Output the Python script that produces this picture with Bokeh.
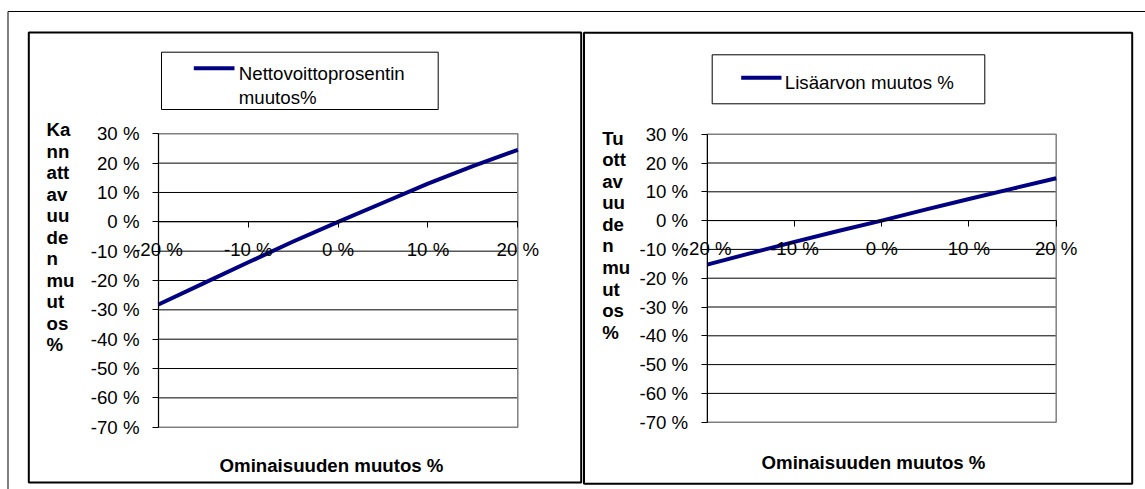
from bokeh.plotting import figure
from bokeh.models import Range1d, LinearAxis, FixedTicker
from bokeh.core.properties import value
from bokeh.embed import file_html
from bokeh.resources import INLINE

# ---------------- data ----------------
change_pct = [-20, -15, -10, -5, 0, 5, 10, 15, 20]
nettovoitto = [-28.2, -21.0, -13.8, -6.7, 0.0, 6.5, 13.0, 19.0, 24.5]
lisaarvo = [-15.3, -11.3, -7.4, -3.6, 0.0, 3.8, 7.5, 11.1, 14.7]

x_ticks = [-20, -10, 0, 10, 20]
y_ticks = [-70, -60, -50, -40, -30, -20, -10, 0, 10, 20, 30]

legend_left = ["Nettovoittoprosentin", "muutos%"]
legend_right = ["Lisäarvon muutos %"]
x_title = "Ominaisuuden muutos %"
y_title_left = ["Ka", "nn", "att", "av", "uu", "de", "n", "mu", "ut", "os", "%"]
y_title_right = ["Tu", "ott", "av", "uu", "de", "n", "mu", "ut", "os", "%"]

# ---------------- layout (page pixels) ----------------
W, H = 1145, 489
OFF = 0
FONT = value("Liberation Sans")
FS = "14pt"
NAVY = "#000080"


def c(v):
    return v - OFF


charts = [
    dict(name="L", series=nettovoitto, legend=legend_left, ytitle=y_title_left,
         plot=(158.0, 517.3, 133.3, 426.7), box=(28.3, 580.7, 32.0, 482.0),
         leg_box=(161.0, 437.7, 51.7, 109.0), leg_line=(193.3, 234.0, 67.7),
         leg_text=(238.3, 73.3, 23.4), ytitle_pos=(46.0, 129.3, 21.47),
         xtitle_pos=(331.0, 465.0)),
    dict(name="R", series=lisaarvo, legend=legend_right, ytitle=y_title_right,
         plot=(706.7, 1055.7, 133.7, 421.7), box=(583.5, 1131.7, 32.3, 483.3),
         leg_box=(711.7, 984.3, 54.3, 103.3), leg_line=(740.7, 781.0, 77.3),
         leg_text=(784.3, 81.7, 23.4), ytitle_pos=(601.7, 137.7, 21.55),
         xtitle_pos=(873.0, 461.7)),
]

p = figure(width=W, height=H, output_backend="svg", toolbar_location=None,
           x_range=Range1d(0, W), y_range=Range1d(H, 0),
           x_axis_location=None, y_axis_location=None, title=None,
           min_border=0, min_border_left=0, min_border_right=0,
           min_border_top=0, min_border_bottom=0)
p.outline_line_color = None
p.background_fill_color = "white"
p.border_fill_color = "white"
p.xgrid.visible = False
p.ygrid.visible = False

# outer frame (top and left edges)
p.segment(x0=[c(7.5), c(7.5)], y0=[c(11), c(11)], x1=[W, c(7.5)], y1=[c(11), H],
          line_color="black", line_width=1)

for ch in charts:
    xl, xr, yt, yb = [c(v) for v in ch["plot"]]
    x0, x1 = x_ticks[0], x_ticks[-1]
    y0, y1 = y_ticks[0], y_ticks[-1]
    sx = (xr - xl) / (x1 - x0)
    sy = (yb - yt) / (y1 - y0)
    xn, yn = "x" + ch["name"], "y" + ch["name"]
    p.extra_x_ranges[xn] = Range1d(x0 - xl / sx, x0 + (W - xl) / sx)
    p.extra_y_ranges[yn] = Range1d(y0 - (H - yb) / sy, y1 + yt / sy)

    # chart box
    bl, br, bt, bb = ch["box"]
    p.quad(left=[c(bl)], right=[c(br)], top=[c(bt)], bottom=[min(c(bb), H - 1.5)],
           fill_color=None, line_color="black", line_width=2)

    # gridlines
    inner = y_ticks[1:-1]
    p.segment(x0=[x0] * len(inner), x1=[x1] * len(inner), y0=inner, y1=inner,
              x_range_name=xn, y_range_name=yn, line_color="black", line_width=1)
    # plot area border
    p.quad(left=[x0], right=[x1], bottom=[y0], top=[y1], x_range_name=xn,
           y_range_name=yn, fill_color=None, line_color="#808080", line_width=1.5)

    # series line
    p.line(change_pct, ch["series"], x_range_name=xn, y_range_name=yn,
           line_color=NAVY, line_width=4, line_join="round")

    # axes
    ya = LinearAxis(x_range_name=xn, y_range_name=yn, fixed_location=x0,
                    bounds=(y0, y1), ticker=FixedTicker(ticks=y_ticks),
                    major_label_overrides={t: f"{t} %" for t in y_ticks})
    xa = LinearAxis(x_range_name=xn, y_range_name=yn, fixed_location=0,
                    bounds=(x0, x1), ticker=FixedTicker(ticks=x_ticks),
                    major_label_overrides={t: f"{t} %" for t in x_ticks})
    for ax in (ya, xa):
        ax.axis_line_color = "black"
        ax.axis_line_width = 1
        ax.major_tick_line_color = "black"
        ax.major_tick_out = 6
        ax.major_tick_in = 0
        ax.minor_tick_out = 0
        ax.minor_tick_in = 0
        ax.major_label_text_font = "Liberation Sans"
        ax.major_label_text_font_size = FS
        ax.major_label_text_color = "black"
    ya.major_label_standoff = 13
    xa.major_label_standoff = 11
    p.add_layout(ya, "left")
    p.add_layout(xa, "below")

    # legend
    ll, lr, lt, lb = ch["leg_box"]
    p.quad(left=[c(ll)], right=[c(lr)], top=[c(lt)], bottom=[c(lb)],
           fill_color="white", line_color="black", line_width=1)
    sx0, sx1, sy_ = ch["leg_line"]
    p.segment(x0=[c(sx0)], x1=[c(sx1)], y0=[c(sy_)], y1=[c(sy_)],
              line_color=NAVY, line_width=4)
    tx, ty, tdy = ch["leg_text"]
    n = len(ch["legend"])
    p.text(x=[c(tx)] * n, y=[c(ty) + i * tdy for i in range(n)], text=ch["legend"],
           text_font=FONT, text_font_size=FS, text_color="black",
           text_align="left", text_baseline="alphabetic")

    # y title (stacked)
    yx, yy, ydy = ch["ytitle_pos"]
    m = len(ch["ytitle"])
    p.text(x=[c(yx)] * m, y=[c(yy) + i * ydy for i in range(m)], text=ch["ytitle"],
           text_font=FONT, text_font_size=FS, text_font_style="bold",
           text_color="black", text_align="left", text_baseline="alphabetic")

    # x title
    xtx, xty = ch["xtitle_pos"]
    p.text(x=[c(xtx)], y=[c(xty)], text=[x_title], text_font=FONT,
           text_font_size=FS, text_font_style="bold", text_color="black",
           text_align="center", text_baseline="alphabetic")

open("out.html", "w").write(file_html(p, INLINE))
